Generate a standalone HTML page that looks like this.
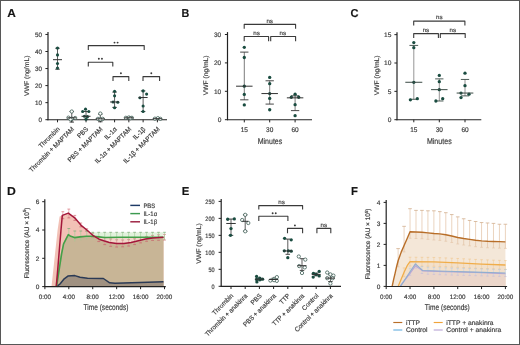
<!DOCTYPE html><html><head><meta charset="utf-8"><style>html,body{margin:0;padding:0;background:#fff;overflow:hidden;}svg{display:block;will-change:transform;}</style></head><body>
<svg width="520" height="345" viewBox="0 0 520 345" font-family='"Liberation Sans", sans-serif'>
<style>text{stroke:#404040;stroke-width:0.18px;text-rendering:geometricPrecision;}</style>
<rect x="0" y="0" width="520" height="345" fill="#fff"/>
<text x="7.2" y="17.2" font-size="11.5" text-anchor="start" fill="#111" font-weight="bold" textLength="8.6" lengthAdjust="spacingAndGlyphs">A</text>
<line x1="48.00" y1="120.20" x2="48.00" y2="32.05" stroke="#222" stroke-width="1.2"/>
<line x1="45.40" y1="119.70" x2="48.00" y2="119.70" stroke="#222" stroke-width="1"/>
<text x="42.1" y="121.9" font-size="6.3" text-anchor="end" fill="#3b3b3b">0</text>
<line x1="45.40" y1="102.65" x2="48.00" y2="102.65" stroke="#222" stroke-width="1"/>
<text x="42.1" y="104.85000000000001" font-size="6.3" text-anchor="end" fill="#3b3b3b">10</text>
<line x1="45.40" y1="85.60" x2="48.00" y2="85.60" stroke="#222" stroke-width="1"/>
<text x="42.1" y="87.8" font-size="6.3" text-anchor="end" fill="#3b3b3b">20</text>
<line x1="45.40" y1="68.55" x2="48.00" y2="68.55" stroke="#222" stroke-width="1"/>
<text x="42.1" y="70.75" font-size="6.3" text-anchor="end" fill="#3b3b3b">30</text>
<line x1="45.40" y1="51.50" x2="48.00" y2="51.50" stroke="#222" stroke-width="1"/>
<text x="42.1" y="53.7" font-size="6.3" text-anchor="end" fill="#3b3b3b">40</text>
<line x1="45.40" y1="34.45" x2="48.00" y2="34.45" stroke="#222" stroke-width="1"/>
<text x="42.1" y="36.650000000000006" font-size="6.3" text-anchor="end" fill="#3b3b3b">50</text>
<line x1="47.50" y1="119.70" x2="167.00" y2="119.70" stroke="#222" stroke-width="1.1"/>
<line x1="57.50" y1="119.70" x2="57.50" y2="122.30" stroke="#222" stroke-width="1"/>
<line x1="71.77" y1="119.70" x2="71.77" y2="122.30" stroke="#222" stroke-width="1"/>
<line x1="86.04" y1="119.70" x2="86.04" y2="122.30" stroke="#222" stroke-width="1"/>
<line x1="100.31" y1="119.70" x2="100.31" y2="122.30" stroke="#222" stroke-width="1"/>
<line x1="114.58" y1="119.70" x2="114.58" y2="122.30" stroke="#222" stroke-width="1"/>
<line x1="128.85" y1="119.70" x2="128.85" y2="122.30" stroke="#222" stroke-width="1"/>
<line x1="143.12" y1="119.70" x2="143.12" y2="122.30" stroke="#222" stroke-width="1"/>
<line x1="157.39" y1="119.70" x2="157.39" y2="122.30" stroke="#222" stroke-width="1"/>
<text x="29.5" y="75.8" font-size="6.6" text-anchor="middle" fill="#3b3b3b" transform="rotate(-90 29.5 75.8)" textLength="40.5" lengthAdjust="spacingAndGlyphs">VWF (ng/mL)</text>
<text x="60.3" y="129.6" font-size="6.6" text-anchor="end" fill="#3b3b3b" transform="rotate(-45 60.3 129.6)" textLength="26.76" lengthAdjust="spacingAndGlyphs">Thrombin</text>
<text x="74.57" y="129.6" font-size="6.6" text-anchor="end" fill="#3b3b3b" transform="rotate(-45 74.57 129.6)" textLength="60.62" lengthAdjust="spacingAndGlyphs">Thrombin + MAPTAM</text>
<text x="88.83999999999999" y="129.6" font-size="6.6" text-anchor="end" fill="#3b3b3b" transform="rotate(-45 88.83999999999999 129.6)" textLength="12.68" lengthAdjust="spacingAndGlyphs">PBS</text>
<text x="103.11" y="129.6" font-size="6.6" text-anchor="end" fill="#3b3b3b" transform="rotate(-45 103.11 129.6)" textLength="46.53" lengthAdjust="spacingAndGlyphs">PBS + MAPTAM</text>
<text x="117.38" y="129.6" font-size="6.6" text-anchor="end" fill="#3b3b3b" transform="rotate(-45 117.38 129.6)" textLength="14.58" lengthAdjust="spacingAndGlyphs">IL-1α</text>
<text x="131.65" y="129.6" font-size="6.6" text-anchor="end" fill="#3b3b3b" transform="rotate(-45 131.65 129.6)" textLength="48.44" lengthAdjust="spacingAndGlyphs">IL-1α + MAPTAM</text>
<text x="145.92000000000002" y="129.6" font-size="6.6" text-anchor="end" fill="#3b3b3b" transform="rotate(-45 145.92000000000002 129.6)" textLength="14.56" lengthAdjust="spacingAndGlyphs">IL-1β</text>
<text x="160.19" y="129.6" font-size="6.6" text-anchor="end" fill="#3b3b3b" transform="rotate(-45 160.19 129.6)" textLength="48.42" lengthAdjust="spacingAndGlyphs">IL-1β + MAPTAM</text>
<line x1="57.50" y1="48.26" x2="57.50" y2="69.23" stroke="#333" stroke-width="0.8"/>
<line x1="55.25" y1="48.26" x2="59.75" y2="48.26" stroke="#333" stroke-width="0.9"/>
<line x1="55.25" y1="69.23" x2="59.75" y2="69.23" stroke="#333" stroke-width="0.9"/>
<circle cx="57.50" cy="48.09" r="1.55" fill="#1a4c40" stroke="none" stroke-width="0.6"/>
<circle cx="57.50" cy="54.91" r="1.55" fill="#1a4c40" stroke="none" stroke-width="0.6"/>
<circle cx="57.50" cy="63.44" r="1.55" fill="#1a4c40" stroke="none" stroke-width="0.6"/>
<circle cx="57.50" cy="68.04" r="1.55" fill="#1a4c40" stroke="none" stroke-width="0.6"/>
<line x1="53.00" y1="59.68" x2="62.00" y2="59.68" stroke="#333" stroke-width="1.0"/>
<line x1="71.77" y1="111.52" x2="71.77" y2="122.09" stroke="#333" stroke-width="0.8"/>
<line x1="69.52" y1="111.52" x2="74.02" y2="111.52" stroke="#333" stroke-width="0.9"/>
<line x1="69.52" y1="122.09" x2="74.02" y2="122.09" stroke="#333" stroke-width="0.9"/>
<circle cx="71.77" cy="111.52" r="1.65" fill="white" stroke="#274a40" stroke-width="0.7"/>
<circle cx="68.47" cy="117.65" r="1.65" fill="white" stroke="#274a40" stroke-width="0.7"/>
<circle cx="75.17" cy="118.00" r="1.65" fill="white" stroke="#274a40" stroke-width="0.7"/>
<circle cx="71.77" cy="118.68" r="1.65" fill="white" stroke="#274a40" stroke-width="0.7"/>
<circle cx="70.57" cy="119.36" r="1.65" fill="white" stroke="#274a40" stroke-width="0.7"/>
<line x1="67.37" y1="117.82" x2="76.17" y2="117.82" stroke="#333" stroke-width="1.0"/>
<line x1="86.04" y1="111.52" x2="86.04" y2="119.19" stroke="#333" stroke-width="0.8"/>
<line x1="83.79" y1="111.52" x2="88.29" y2="111.52" stroke="#333" stroke-width="0.9"/>
<line x1="83.79" y1="119.19" x2="88.29" y2="119.19" stroke="#333" stroke-width="0.9"/>
<circle cx="85.54" cy="109.13" r="1.55" fill="#1a4c40" stroke="none" stroke-width="0.6"/>
<circle cx="82.64" cy="111.52" r="1.55" fill="#1a4c40" stroke="none" stroke-width="0.6"/>
<circle cx="88.84" cy="111.52" r="1.55" fill="#1a4c40" stroke="none" stroke-width="0.6"/>
<circle cx="84.44" cy="116.29" r="1.55" fill="#1a4c40" stroke="none" stroke-width="0.6"/>
<circle cx="87.44" cy="116.63" r="1.55" fill="#1a4c40" stroke="none" stroke-width="0.6"/>
<circle cx="86.04" cy="119.19" r="1.55" fill="#1a4c40" stroke="none" stroke-width="0.6"/>
<line x1="81.54" y1="116.29" x2="90.54" y2="116.29" stroke="#333" stroke-width="1.0"/>
<line x1="100.31" y1="114.07" x2="100.31" y2="121.75" stroke="#333" stroke-width="0.8"/>
<line x1="98.06" y1="114.07" x2="102.56" y2="114.07" stroke="#333" stroke-width="0.9"/>
<line x1="98.06" y1="121.75" x2="102.56" y2="121.75" stroke="#333" stroke-width="0.9"/>
<circle cx="100.31" cy="113.56" r="1.65" fill="white" stroke="#274a40" stroke-width="0.7"/>
<circle cx="97.91" cy="118.85" r="1.65" fill="white" stroke="#274a40" stroke-width="0.7"/>
<circle cx="102.71" cy="118.85" r="1.65" fill="white" stroke="#274a40" stroke-width="0.7"/>
<circle cx="100.31" cy="119.36" r="1.65" fill="white" stroke="#274a40" stroke-width="0.7"/>
<line x1="95.81" y1="118.85" x2="104.81" y2="118.85" stroke="#333" stroke-width="1.0"/>
<line x1="114.58" y1="92.08" x2="114.58" y2="107.42" stroke="#333" stroke-width="0.8"/>
<line x1="112.33" y1="92.08" x2="116.83" y2="92.08" stroke="#333" stroke-width="0.9"/>
<line x1="112.33" y1="107.42" x2="116.83" y2="107.42" stroke="#333" stroke-width="0.9"/>
<circle cx="114.58" cy="91.23" r="1.55" fill="#1a4c40" stroke="none" stroke-width="0.6"/>
<circle cx="114.58" cy="95.83" r="1.55" fill="#1a4c40" stroke="none" stroke-width="0.6"/>
<circle cx="113.08" cy="101.97" r="1.55" fill="#1a4c40" stroke="none" stroke-width="0.6"/>
<circle cx="117.78" cy="102.31" r="1.55" fill="#1a4c40" stroke="none" stroke-width="0.6"/>
<circle cx="114.58" cy="107.77" r="1.55" fill="#1a4c40" stroke="none" stroke-width="0.6"/>
<line x1="110.08" y1="101.97" x2="119.08" y2="101.97" stroke="#333" stroke-width="1.0"/>
<line x1="128.85" y1="117.31" x2="128.85" y2="118.34" stroke="#333" stroke-width="0.8"/>
<line x1="126.60" y1="117.31" x2="131.10" y2="117.31" stroke="#333" stroke-width="0.9"/>
<line x1="126.60" y1="118.34" x2="131.10" y2="118.34" stroke="#333" stroke-width="0.9"/>
<circle cx="125.85" cy="117.82" r="1.65" fill="white" stroke="#274a40" stroke-width="0.7"/>
<circle cx="128.85" cy="117.48" r="1.65" fill="white" stroke="#274a40" stroke-width="0.7"/>
<circle cx="131.85" cy="117.82" r="1.65" fill="white" stroke="#274a40" stroke-width="0.7"/>
<circle cx="130.35" cy="118.17" r="1.65" fill="white" stroke="#274a40" stroke-width="0.7"/>
<line x1="124.35" y1="117.82" x2="133.35" y2="117.82" stroke="#333" stroke-width="1.0"/>
<line x1="143.12" y1="90.89" x2="143.12" y2="111.52" stroke="#333" stroke-width="0.8"/>
<line x1="140.87" y1="90.89" x2="145.37" y2="90.89" stroke="#333" stroke-width="0.9"/>
<line x1="140.87" y1="111.52" x2="145.37" y2="111.52" stroke="#333" stroke-width="0.9"/>
<circle cx="143.12" cy="90.89" r="1.55" fill="#1a4c40" stroke="none" stroke-width="0.6"/>
<circle cx="146.62" cy="94.12" r="1.55" fill="#1a4c40" stroke="none" stroke-width="0.6"/>
<circle cx="139.92" cy="97.71" r="1.55" fill="#1a4c40" stroke="none" stroke-width="0.6"/>
<circle cx="143.12" cy="106.06" r="1.55" fill="#1a4c40" stroke="none" stroke-width="0.6"/>
<circle cx="143.12" cy="111.52" r="1.55" fill="#1a4c40" stroke="none" stroke-width="0.6"/>
<line x1="138.62" y1="97.53" x2="147.62" y2="97.53" stroke="#333" stroke-width="1.0"/>
<line x1="157.39" y1="118.17" x2="157.39" y2="119.02" stroke="#333" stroke-width="0.8"/>
<line x1="155.14" y1="118.17" x2="159.64" y2="118.17" stroke="#333" stroke-width="0.9"/>
<line x1="155.14" y1="119.02" x2="159.64" y2="119.02" stroke="#333" stroke-width="0.9"/>
<circle cx="154.89" cy="118.68" r="1.65" fill="white" stroke="#274a40" stroke-width="0.7"/>
<circle cx="157.89" cy="118.17" r="1.65" fill="white" stroke="#274a40" stroke-width="0.7"/>
<circle cx="160.39" cy="118.85" r="1.65" fill="white" stroke="#274a40" stroke-width="0.7"/>
<line x1="152.89" y1="118.68" x2="161.89" y2="118.68" stroke="#333" stroke-width="1.0"/>
<polyline points="88.30,50.00 88.30,45.60 144.20,45.60 144.20,50.00" fill="none" stroke="#3a3a3a" stroke-width="1.1" stroke-linejoin="round" stroke-linejoin="miter"/>
<circle cx="114.50" cy="42.60" r="0.95" fill="#3a3a3a" stroke="none" stroke-width="0.6"/>
<circle cx="117.60" cy="42.60" r="0.95" fill="#3a3a3a" stroke="none" stroke-width="0.6"/>
<polyline points="88.30,66.40 88.30,62.20 112.80,62.20 112.80,66.40" fill="none" stroke="#3a3a3a" stroke-width="1.1" stroke-linejoin="round" stroke-linejoin="miter"/>
<circle cx="98.85" cy="58.80" r="0.95" fill="#3a3a3a" stroke="none" stroke-width="0.6"/>
<circle cx="101.95" cy="58.80" r="0.95" fill="#3a3a3a" stroke="none" stroke-width="0.6"/>
<polyline points="113.00,81.00 113.00,76.60 128.80,76.60 128.80,81.00" fill="none" stroke="#3a3a3a" stroke-width="1.1" stroke-linejoin="round" stroke-linejoin="miter"/>
<circle cx="120.90" cy="73.20" r="0.95" fill="#3a3a3a" stroke="none" stroke-width="0.6"/>
<polyline points="143.00,81.00 143.00,76.60 159.60,76.60 159.60,81.00" fill="none" stroke="#3a3a3a" stroke-width="1.1" stroke-linejoin="round" stroke-linejoin="miter"/>
<circle cx="151.30" cy="73.20" r="0.95" fill="#3a3a3a" stroke="none" stroke-width="0.6"/>
<text x="181.4" y="17.1" font-size="11.5" text-anchor="start" fill="#111" font-weight="bold" textLength="7.8" lengthAdjust="spacingAndGlyphs">B</text>
<line x1="227.50" y1="120.20" x2="227.50" y2="32.10" stroke="#222" stroke-width="1.2"/>
<line x1="224.90" y1="119.70" x2="227.50" y2="119.70" stroke="#222" stroke-width="1"/>
<text x="221.3" y="121.9" font-size="6.6" text-anchor="end" fill="#3b3b3b">0</text>
<line x1="224.90" y1="91.30" x2="227.50" y2="91.30" stroke="#222" stroke-width="1"/>
<text x="221.3" y="93.50000000000001" font-size="6.6" text-anchor="end" fill="#3b3b3b">10</text>
<line x1="224.90" y1="62.90" x2="227.50" y2="62.90" stroke="#222" stroke-width="1"/>
<text x="221.3" y="65.10000000000001" font-size="6.6" text-anchor="end" fill="#3b3b3b">20</text>
<line x1="224.90" y1="34.50" x2="227.50" y2="34.50" stroke="#222" stroke-width="1"/>
<text x="221.3" y="36.70000000000002" font-size="6.6" text-anchor="end" fill="#3b3b3b">30</text>
<line x1="227.00" y1="119.80" x2="312.00" y2="119.80" stroke="#222" stroke-width="1.1"/>
<line x1="244.30" y1="119.80" x2="244.30" y2="122.40" stroke="#222" stroke-width="1"/>
<line x1="269.70" y1="119.80" x2="269.70" y2="122.40" stroke="#222" stroke-width="1"/>
<line x1="295.10" y1="119.80" x2="295.10" y2="122.40" stroke="#222" stroke-width="1"/>
<text x="244.3" y="132.0" font-size="6.8" text-anchor="middle" fill="#3b3b3b" textLength="7.2" lengthAdjust="spacingAndGlyphs">15</text>
<text x="269.7" y="132.0" font-size="6.8" text-anchor="middle" fill="#3b3b3b" textLength="7.2" lengthAdjust="spacingAndGlyphs">30</text>
<text x="295.1" y="132.0" font-size="6.8" text-anchor="middle" fill="#3b3b3b" textLength="7.2" lengthAdjust="spacingAndGlyphs">60</text>
<text x="270" y="143.9" font-size="8.2" text-anchor="middle" fill="#3b3b3b" textLength="24.6" lengthAdjust="spacingAndGlyphs">Minutes</text>
<text x="207.7" y="75.3" font-size="6.6" text-anchor="middle" fill="#3b3b3b" transform="rotate(-90 207.7 75.3)" textLength="39.8" lengthAdjust="spacingAndGlyphs">VWF (ng/mL)</text>
<line x1="244.30" y1="52.11" x2="244.30" y2="99.82" stroke="#5a5a5a" stroke-width="0.8"/>
<line x1="240.15" y1="52.11" x2="248.45" y2="52.11" stroke="#333" stroke-width="0.9"/>
<line x1="240.15" y1="99.82" x2="248.45" y2="99.82" stroke="#333" stroke-width="0.9"/>
<circle cx="244.30" cy="47.28" r="1.65" fill="#1a4c40" stroke="none" stroke-width="0.6"/>
<circle cx="244.30" cy="57.50" r="1.65" fill="#1a4c40" stroke="none" stroke-width="0.6"/>
<circle cx="244.30" cy="86.19" r="1.65" fill="#1a4c40" stroke="none" stroke-width="0.6"/>
<circle cx="244.30" cy="94.42" r="1.65" fill="#1a4c40" stroke="none" stroke-width="0.6"/>
<circle cx="244.30" cy="104.93" r="1.65" fill="#1a4c40" stroke="none" stroke-width="0.6"/>
<line x1="236.05" y1="86.19" x2="252.55" y2="86.19" stroke="#333" stroke-width="1.0"/>
<line x1="269.70" y1="80.79" x2="269.70" y2="104.08" stroke="#5a5a5a" stroke-width="0.8"/>
<line x1="265.55" y1="80.79" x2="273.85" y2="80.79" stroke="#333" stroke-width="0.9"/>
<line x1="265.55" y1="104.08" x2="273.85" y2="104.08" stroke="#333" stroke-width="0.9"/>
<circle cx="269.70" cy="77.38" r="1.65" fill="#1a4c40" stroke="none" stroke-width="0.6"/>
<circle cx="269.70" cy="83.63" r="1.65" fill="#1a4c40" stroke="none" stroke-width="0.6"/>
<circle cx="269.70" cy="93.57" r="1.65" fill="#1a4c40" stroke="none" stroke-width="0.6"/>
<circle cx="269.70" cy="98.40" r="1.65" fill="#1a4c40" stroke="none" stroke-width="0.6"/>
<circle cx="269.70" cy="109.76" r="1.65" fill="#1a4c40" stroke="none" stroke-width="0.6"/>
<line x1="261.45" y1="93.57" x2="277.95" y2="93.57" stroke="#333" stroke-width="1.0"/>
<line x1="295.10" y1="95.84" x2="295.10" y2="110.61" stroke="#5a5a5a" stroke-width="0.8"/>
<line x1="290.95" y1="95.84" x2="299.25" y2="95.84" stroke="#333" stroke-width="0.9"/>
<line x1="290.95" y1="110.61" x2="299.25" y2="110.61" stroke="#333" stroke-width="0.9"/>
<circle cx="295.10" cy="94.14" r="1.65" fill="#1a4c40" stroke="none" stroke-width="0.6"/>
<circle cx="291.30" cy="97.26" r="1.65" fill="#1a4c40" stroke="none" stroke-width="0.6"/>
<circle cx="298.70" cy="97.26" r="1.65" fill="#1a4c40" stroke="none" stroke-width="0.6"/>
<circle cx="295.10" cy="104.65" r="1.65" fill="#1a4c40" stroke="none" stroke-width="0.6"/>
<circle cx="295.10" cy="115.72" r="1.65" fill="#1a4c40" stroke="none" stroke-width="0.6"/>
<line x1="286.85" y1="97.83" x2="303.35" y2="97.83" stroke="#333" stroke-width="1.0"/>
<polyline points="244.20,28.70 244.20,24.40 295.60,24.40 295.60,28.70" fill="none" stroke="#3a3a3a" stroke-width="1.1" stroke-linejoin="round" stroke-linejoin="miter"/>
<text x="269.7" y="22.5" font-size="6.0" text-anchor="middle" fill="#3b3b3b" textLength="6.5" lengthAdjust="spacingAndGlyphs">ns</text>
<polyline points="244.20,41.20 244.20,36.50 268.60,36.50 268.60,41.20" fill="none" stroke="#3a3a3a" stroke-width="1.1" stroke-linejoin="round" stroke-linejoin="miter"/>
<text x="256.5" y="35.0" font-size="6.0" text-anchor="middle" fill="#3b3b3b" textLength="6.5" lengthAdjust="spacingAndGlyphs">ns</text>
<polyline points="270.70,41.20 270.70,36.50 295.60,36.50 295.60,41.20" fill="none" stroke="#3a3a3a" stroke-width="1.1" stroke-linejoin="round" stroke-linejoin="miter"/>
<text x="282.8" y="35.0" font-size="6.0" text-anchor="middle" fill="#3b3b3b" textLength="6.5" lengthAdjust="spacingAndGlyphs">ns</text>
<text x="350.4" y="17.1" font-size="11.5" text-anchor="start" fill="#111" font-weight="bold" textLength="8.0" lengthAdjust="spacingAndGlyphs">C</text>
<line x1="397.00" y1="120.20" x2="397.00" y2="32.25" stroke="#222" stroke-width="1.2"/>
<line x1="394.40" y1="119.70" x2="397.00" y2="119.70" stroke="#222" stroke-width="1"/>
<text x="391.4" y="121.9" font-size="6.6" text-anchor="end" fill="#3b3b3b">0</text>
<line x1="394.40" y1="91.35" x2="397.00" y2="91.35" stroke="#222" stroke-width="1"/>
<text x="391.4" y="93.55" font-size="6.6" text-anchor="end" fill="#3b3b3b">5</text>
<line x1="394.40" y1="63.00" x2="397.00" y2="63.00" stroke="#222" stroke-width="1"/>
<text x="391.4" y="65.2" font-size="6.6" text-anchor="end" fill="#3b3b3b">10</text>
<line x1="394.40" y1="34.65" x2="397.00" y2="34.65" stroke="#222" stroke-width="1"/>
<text x="391.4" y="36.85000000000001" font-size="6.6" text-anchor="end" fill="#3b3b3b">15</text>
<line x1="396.50" y1="119.70" x2="481.30" y2="119.70" stroke="#222" stroke-width="1.1"/>
<line x1="413.80" y1="119.70" x2="413.80" y2="122.30" stroke="#222" stroke-width="1"/>
<line x1="439.30" y1="119.70" x2="439.30" y2="122.30" stroke="#222" stroke-width="1"/>
<line x1="465.00" y1="119.70" x2="465.00" y2="122.30" stroke="#222" stroke-width="1"/>
<text x="413.8" y="132.0" font-size="6.8" text-anchor="middle" fill="#3b3b3b" textLength="7.2" lengthAdjust="spacingAndGlyphs">15</text>
<text x="439.3" y="132.0" font-size="6.8" text-anchor="middle" fill="#3b3b3b" textLength="7.2" lengthAdjust="spacingAndGlyphs">30</text>
<text x="465.0" y="132.0" font-size="6.8" text-anchor="middle" fill="#3b3b3b" textLength="7.2" lengthAdjust="spacingAndGlyphs">60</text>
<text x="439.3" y="144.1" font-size="8.2" text-anchor="middle" fill="#3b3b3b" textLength="24.8" lengthAdjust="spacingAndGlyphs">Minutes</text>
<text x="378.6" y="75.3" font-size="6.6" text-anchor="middle" fill="#3b3b3b" transform="rotate(-90 378.6 75.3)" textLength="39.8" lengthAdjust="spacingAndGlyphs">VWF (ng/mL)</text>
<line x1="413.80" y1="45.42" x2="413.80" y2="99.29" stroke="#7a7a7a" stroke-width="0.8"/>
<line x1="409.45" y1="45.42" x2="418.15" y2="45.42" stroke="#3a4a44" stroke-width="0.9"/>
<line x1="409.45" y1="99.29" x2="418.15" y2="99.29" stroke="#3a4a44" stroke-width="0.9"/>
<circle cx="413.80" cy="42.59" r="1.65" fill="#1a4c40" stroke="none" stroke-width="0.6"/>
<circle cx="413.80" cy="47.69" r="1.65" fill="#1a4c40" stroke="none" stroke-width="0.6"/>
<circle cx="413.80" cy="82.28" r="1.65" fill="#1a4c40" stroke="none" stroke-width="0.6"/>
<circle cx="410.40" cy="99.86" r="1.65" fill="#1a4c40" stroke="none" stroke-width="0.6"/>
<circle cx="417.30" cy="98.72" r="1.65" fill="#1a4c40" stroke="none" stroke-width="0.6"/>
<line x1="405.30" y1="82.28" x2="422.30" y2="82.28" stroke="#3a4a44" stroke-width="1.0"/>
<line x1="439.30" y1="78.88" x2="439.30" y2="100.99" stroke="#7a7a7a" stroke-width="0.8"/>
<line x1="435.15" y1="78.88" x2="443.45" y2="78.88" stroke="#3a4a44" stroke-width="0.9"/>
<line x1="435.15" y1="100.99" x2="443.45" y2="100.99" stroke="#3a4a44" stroke-width="0.9"/>
<circle cx="439.30" cy="75.47" r="1.65" fill="#1a4c40" stroke="none" stroke-width="0.6"/>
<circle cx="439.30" cy="81.71" r="1.65" fill="#1a4c40" stroke="none" stroke-width="0.6"/>
<circle cx="439.30" cy="89.65" r="1.65" fill="#1a4c40" stroke="none" stroke-width="0.6"/>
<circle cx="442.70" cy="98.72" r="1.65" fill="#1a4c40" stroke="none" stroke-width="0.6"/>
<circle cx="435.90" cy="100.99" r="1.65" fill="#1a4c40" stroke="none" stroke-width="0.6"/>
<line x1="431.05" y1="89.65" x2="447.55" y2="89.65" stroke="#3a4a44" stroke-width="1.0"/>
<line x1="465.00" y1="79.44" x2="465.00" y2="95.89" stroke="#7a7a7a" stroke-width="0.8"/>
<line x1="460.85" y1="79.44" x2="469.15" y2="79.44" stroke="#3a4a44" stroke-width="0.9"/>
<line x1="460.85" y1="95.89" x2="469.15" y2="95.89" stroke="#3a4a44" stroke-width="0.9"/>
<circle cx="465.00" cy="73.21" r="1.65" fill="#1a4c40" stroke="none" stroke-width="0.6"/>
<circle cx="465.00" cy="85.68" r="1.65" fill="#1a4c40" stroke="none" stroke-width="0.6"/>
<circle cx="461.00" cy="93.05" r="1.65" fill="#1a4c40" stroke="none" stroke-width="0.6"/>
<circle cx="469.00" cy="94.19" r="1.65" fill="#1a4c40" stroke="none" stroke-width="0.6"/>
<circle cx="461.00" cy="97.59" r="1.65" fill="#1a4c40" stroke="none" stroke-width="0.6"/>
<line x1="456.65" y1="93.05" x2="473.35" y2="93.05" stroke="#3a4a44" stroke-width="1.0"/>
<polyline points="413.70,25.50 413.70,21.10 464.90,21.10 464.90,25.50" fill="none" stroke="#3a3a3a" stroke-width="1.1" stroke-linejoin="round" stroke-linejoin="miter"/>
<text x="439.3" y="19.0" font-size="6.0" text-anchor="middle" fill="#3b3b3b" textLength="6.5" lengthAdjust="spacingAndGlyphs">ns</text>
<polyline points="413.70,38.10 413.70,33.60 438.40,33.60 438.40,38.10" fill="none" stroke="#3a3a3a" stroke-width="1.1" stroke-linejoin="round" stroke-linejoin="miter"/>
<text x="425.9" y="32.0" font-size="6.0" text-anchor="middle" fill="#3b3b3b" textLength="6.5" lengthAdjust="spacingAndGlyphs">ns</text>
<polyline points="440.30,38.10 440.30,33.60 465.20,33.60 465.20,38.10" fill="none" stroke="#3a3a3a" stroke-width="1.1" stroke-linejoin="round" stroke-linejoin="miter"/>
<text x="452.8" y="32.0" font-size="6.0" text-anchor="middle" fill="#3b3b3b" textLength="6.5" lengthAdjust="spacingAndGlyphs">ns</text>
<text x="7.0" y="195.2" font-size="11.5" text-anchor="start" fill="#111" font-weight="bold" textLength="8.8" lengthAdjust="spacingAndGlyphs">D</text>
<polygon points="51.50,286.60 57.60,230.00 59.60,216.50 62.30,215.40 68.30,213.10 74.70,217.80 81.10,225.30 86.90,230.00 93.30,235.70 99.10,239.20 103.70,240.80 109.40,242.50 116.60,243.40 123.90,243.40 131.10,242.50 138.30,240.80 145.50,239.00 152.70,237.90 163.50,237.20 163.50,286.60" fill="#f2c1b6" stroke="none"/>
<polygon points="92.00,232.30 163.50,232.30 163.50,237.20 92.00,237.20" fill="#e2f1dc" stroke="none"/>
<polygon points="95.00,236.50 95.50,236.55 96.00,236.61 96.50,236.67 97.00,236.73 97.50,236.78 98.00,236.84 98.50,236.90 99.00,236.95 99.50,236.99 100.00,237.04 100.50,237.09 101.00,237.13 101.50,237.18 102.00,237.23 102.50,237.28 103.00,237.32 103.50,237.37 104.00,237.42 104.50,237.46 105.00,237.50 105.50,237.49 106.00,237.49 106.50,237.48 107.00,237.47 107.50,237.47 108.00,237.46 108.50,237.45 109.00,237.45 109.50,237.44 110.00,237.43 110.50,237.43 111.00,237.42 111.50,237.41 112.00,237.41 112.50,237.40 113.00,237.39 113.50,237.39 114.00,237.38 114.50,237.37 115.00,237.37 115.50,237.36 116.00,237.35 116.50,237.35 117.00,237.34 117.50,237.33 118.00,237.33 118.50,237.32 119.00,237.31 119.50,237.31 120.00,237.30 120.50,237.30 121.00,237.30 121.50,237.29 122.00,237.29 122.50,237.29 123.00,237.28 123.50,237.28 124.00,237.28 124.50,237.28 125.00,237.28 125.50,237.27 126.00,237.27 126.50,237.27 127.00,237.27 127.50,237.26 128.00,237.26 128.50,237.26 129.00,237.25 129.50,237.25 130.00,237.25 130.50,237.25 131.00,237.25 131.50,237.24 132.00,237.24 132.50,237.24 133.00,237.23 133.50,237.23 134.00,237.23 134.50,237.23 135.00,237.22 135.50,237.22 136.00,237.22 136.50,237.22 137.00,237.22 137.50,237.21 138.00,237.21 138.50,237.21 139.00,237.20 139.50,237.20 140.00,237.20 140.50,237.20 141.00,237.20 141.50,237.20 142.00,237.20 142.50,237.20 143.00,237.20 143.50,237.20 144.00,237.20 144.50,237.20 145.00,237.20 145.50,237.20 146.00,237.20 146.50,237.20 147.00,237.20 147.50,237.20 148.00,237.20 148.50,237.20 149.00,237.20 149.50,237.20 150.00,237.20 150.50,237.20 151.00,237.20 151.50,237.20 152.00,237.20 152.50,237.20 153.00,237.20 153.50,237.20 154.00,237.20 154.50,237.20 155.00,237.20 155.50,237.20 156.00,237.20 156.50,237.20 157.00,237.20 157.50,237.20 158.00,237.20 158.50,237.20 159.00,237.20 159.50,237.20 160.00,237.20 160.50,237.20 161.00,237.20 161.50,237.20 162.00,237.20 162.50,237.20 163.00,237.20 163.50,237.20 163.50,237.20 163.00,237.23 162.50,237.26 162.00,237.30 161.50,237.33 161.00,237.36 160.50,237.39 160.00,237.43 159.50,237.46 159.00,237.49 158.50,237.52 158.00,237.56 157.50,237.59 157.00,237.62 156.50,237.65 156.00,237.69 155.50,237.72 155.00,237.75 154.50,237.78 154.00,237.82 153.50,237.85 153.00,237.88 152.50,237.93 152.00,238.01 151.50,238.08 151.00,238.16 150.50,238.24 150.00,238.31 149.50,238.39 149.00,238.47 148.50,238.54 148.00,238.62 147.50,238.69 147.00,238.77 146.50,238.85 146.00,238.92 145.50,239.00 145.00,239.12 144.50,239.25 144.00,239.38 143.50,239.50 143.00,239.62 142.50,239.75 142.00,239.88 141.50,240.00 141.00,240.12 140.50,240.25 140.00,240.38 139.50,240.50 139.00,240.62 138.50,240.75 138.00,240.87 137.50,240.99 137.00,241.11 136.50,241.23 136.00,241.34 135.50,241.46 135.00,241.58 134.50,241.70 134.00,241.82 133.50,241.93 133.00,242.05 132.50,242.17 132.00,242.29 131.50,242.41 131.00,242.51 130.50,242.57 130.00,242.64 129.50,242.70 129.00,242.76 128.50,242.82 128.00,242.89 127.50,242.95 127.00,243.01 126.50,243.08 126.00,243.14 125.50,243.20 125.00,243.26 124.50,243.33 124.00,243.39 123.50,243.40 123.00,243.40 122.50,243.40 122.00,243.40 121.50,243.40 121.00,243.40 120.50,243.40 120.00,243.40 119.50,243.40 119.00,243.40 118.50,243.40 118.00,243.40 117.50,243.40 117.00,243.40 116.50,243.39 116.00,243.33 115.50,243.26 115.00,243.20 114.50,243.14 114.00,243.08 113.50,243.01 113.00,242.95 112.50,242.89 112.00,242.82 111.50,242.76 111.00,242.70 110.50,242.64 110.00,242.57 109.50,242.51 109.00,242.38 108.50,242.23 108.00,242.08 107.50,241.93 107.00,241.78 106.50,241.64 106.00,241.49 105.50,241.34 105.00,241.19 104.50,241.04 104.00,240.89 103.50,240.73 103.00,240.56 102.50,240.38 102.00,240.21 101.50,240.03 101.00,239.86 100.50,239.69 100.00,239.51 99.50,239.34 99.00,239.14 98.50,238.84 98.00,238.54 97.50,238.23 97.00,237.93 96.50,237.63 96.00,237.33 95.50,237.03 95.00,236.73" fill="#f1d6c9" stroke="none"/>
<polygon points="55.00,286.60 58.50,265.00 60.80,253.30 62.80,243.90 66.50,236.50 68.50,234.74 69.00,235.08 69.50,235.42 70.00,235.76 70.50,236.10 71.00,236.37 71.50,236.55 72.00,236.72 72.50,236.90 73.00,237.07 73.50,237.25 74.00,237.42 74.50,237.60 75.00,237.54 75.50,237.47 76.00,237.41 76.50,237.35 77.00,237.28 77.50,237.22 78.00,237.15 78.50,237.09 79.00,237.03 79.50,236.96 80.00,236.90 80.50,236.85 81.00,236.80 81.50,236.76 82.00,236.71 82.50,236.66 83.00,236.61 83.50,236.57 84.00,236.52 84.50,236.47 85.00,236.42 85.50,236.38 86.00,236.33 86.50,236.30 87.00,236.30 87.50,236.30 88.00,236.30 88.50,236.30 89.00,236.30 89.50,236.30 90.00,236.30 90.50,236.30 91.00,236.30 91.50,236.30 92.00,236.30 92.50,236.30 93.00,236.30 93.50,236.32 94.00,236.38 94.50,236.44 95.00,236.73 95.50,237.03 96.00,237.33 96.50,237.63 97.00,237.93 97.50,238.23 98.00,238.54 98.50,238.84 99.00,239.14 99.50,239.34 100.00,239.51 100.50,239.69 101.00,239.86 101.50,240.03 102.00,240.21 102.50,240.38 103.00,240.56 103.50,240.73 104.00,240.89 104.50,241.04 105.00,241.19 105.50,241.34 106.00,241.49 106.50,241.64 107.00,241.78 107.50,241.93 108.00,242.08 108.50,242.23 109.00,242.38 109.50,242.51 110.00,242.57 110.50,242.64 111.00,242.70 111.50,242.76 112.00,242.82 112.50,242.89 113.00,242.95 113.50,243.01 114.00,243.08 114.50,243.14 115.00,243.20 115.50,243.26 116.00,243.33 116.50,243.39 117.00,243.40 117.50,243.40 118.00,243.40 118.50,243.40 119.00,243.40 119.50,243.40 120.00,243.40 120.50,243.40 121.00,243.40 121.50,243.40 122.00,243.40 122.50,243.40 123.00,243.40 123.50,243.40 124.00,243.39 124.50,243.33 125.00,243.26 125.50,243.20 126.00,243.14 126.50,243.08 127.00,243.01 127.50,242.95 128.00,242.89 128.50,242.82 129.00,242.76 129.50,242.70 130.00,242.64 130.50,242.57 131.00,242.51 131.50,242.41 132.00,242.29 132.50,242.17 133.00,242.05 133.50,241.93 134.00,241.82 134.50,241.70 135.00,241.58 135.50,241.46 136.00,241.34 136.50,241.23 137.00,241.11 137.50,240.99 138.00,240.87 138.50,240.75 139.00,240.62 139.50,240.50 140.00,240.38 140.50,240.25 141.00,240.12 141.50,240.00 142.00,239.88 142.50,239.75 143.00,239.62 143.50,239.50 144.00,239.38 144.50,239.25 145.00,239.12 145.50,239.00 146.00,238.92 146.50,238.85 147.00,238.77 147.50,238.69 148.00,238.62 148.50,238.54 149.00,238.47 149.50,238.39 150.00,238.31 150.50,238.24 151.00,238.16 151.50,238.08 152.00,238.01 152.50,237.93 153.00,237.88 153.50,237.85 154.00,237.82 154.50,237.78 155.00,237.75 155.50,237.72 156.00,237.69 156.50,237.65 157.00,237.62 157.50,237.59 158.00,237.56 158.50,237.52 159.00,237.49 159.50,237.46 160.00,237.43 160.50,237.39 161.00,237.36 161.50,237.33 162.00,237.30 162.50,237.26 163.00,237.23 163.50,237.20 163.50,286.60" fill="#c8b596" stroke="none"/>
<polygon points="56.60,286.60 60.00,284.00 64.20,278.80 67.90,276.10 74.80,275.60 80.10,277.20 87.50,278.20 103.40,278.50 109.70,282.80 115.00,283.20 140.00,282.50 163.50,281.80 163.50,286.60" fill="#a09181" stroke="none"/>
<line x1="62.84" y1="211.70" x2="62.84" y2="218.69" stroke="#dd8a8f" stroke-width="0.6"/>
<line x1="61.44" y1="211.70" x2="64.24" y2="211.70" stroke="#d9707a" stroke-width="0.7"/>
<line x1="61.44" y1="218.69" x2="64.24" y2="218.69" stroke="#c9606a" stroke-width="0.7"/>
<line x1="68.82" y1="209.10" x2="68.82" y2="217.86" stroke="#dd8a8f" stroke-width="0.6"/>
<line x1="67.42" y1="209.10" x2="70.22" y2="209.10" stroke="#d9707a" stroke-width="0.7"/>
<line x1="67.42" y1="217.86" x2="70.22" y2="217.86" stroke="#c9606a" stroke-width="0.7"/>
<line x1="74.80" y1="215.40" x2="74.80" y2="220.43" stroke="#dd8a8f" stroke-width="0.6"/>
<line x1="73.40" y1="215.40" x2="76.20" y2="215.40" stroke="#d9707a" stroke-width="0.7"/>
<line x1="73.40" y1="220.43" x2="76.20" y2="220.43" stroke="#c9606a" stroke-width="0.7"/>
<line x1="80.78" y1="223.00" x2="80.78" y2="226.85" stroke="#dd8a8f" stroke-width="0.6"/>
<line x1="79.38" y1="223.00" x2="82.18" y2="223.00" stroke="#d9707a" stroke-width="0.7"/>
<line x1="79.38" y1="226.85" x2="82.18" y2="226.85" stroke="#c9606a" stroke-width="0.7"/>
<line x1="86.76" y1="228.80" x2="86.76" y2="230.97" stroke="#dd8a8f" stroke-width="0.6"/>
<line x1="85.36" y1="228.80" x2="88.16" y2="228.80" stroke="#d9707a" stroke-width="0.7"/>
<line x1="85.36" y1="230.97" x2="88.16" y2="230.97" stroke="#c9606a" stroke-width="0.7"/>
<line x1="92.74" y1="233.20" x2="92.74" y2="237.20" stroke="#dd8a8f" stroke-width="0.6"/>
<line x1="91.34" y1="233.20" x2="94.14" y2="233.20" stroke="#d9707a" stroke-width="0.7"/>
<line x1="91.34" y1="237.20" x2="94.14" y2="237.20" stroke="#c9606a" stroke-width="0.7"/>
<line x1="98.72" y1="236.40" x2="98.72" y2="241.54" stroke="#dd8a8f" stroke-width="0.6"/>
<line x1="97.32" y1="236.40" x2="100.12" y2="236.40" stroke="#d9707a" stroke-width="0.7"/>
<line x1="97.32" y1="241.54" x2="100.12" y2="241.54" stroke="#c9606a" stroke-width="0.7"/>
<line x1="104.70" y1="237.60" x2="104.70" y2="244.60" stroke="#dd8a8f" stroke-width="0.6"/>
<line x1="103.30" y1="237.60" x2="106.10" y2="237.60" stroke="#d9707a" stroke-width="0.7"/>
<line x1="103.30" y1="244.60" x2="106.10" y2="244.60" stroke="#c9606a" stroke-width="0.7"/>
<line x1="110.68" y1="239.00" x2="110.68" y2="246.32" stroke="#dd8a8f" stroke-width="0.6"/>
<line x1="109.28" y1="239.00" x2="112.08" y2="239.00" stroke="#d9707a" stroke-width="0.7"/>
<line x1="109.28" y1="246.32" x2="112.08" y2="246.32" stroke="#c9606a" stroke-width="0.7"/>
<line x1="116.66" y1="239.80" x2="116.66" y2="247.00" stroke="#dd8a8f" stroke-width="0.6"/>
<line x1="115.26" y1="239.80" x2="118.06" y2="239.80" stroke="#d9707a" stroke-width="0.7"/>
<line x1="115.26" y1="247.00" x2="118.06" y2="247.00" stroke="#c9606a" stroke-width="0.7"/>
<line x1="122.64" y1="240.00" x2="122.64" y2="246.80" stroke="#dd8a8f" stroke-width="0.6"/>
<line x1="121.24" y1="240.00" x2="124.04" y2="240.00" stroke="#d9707a" stroke-width="0.7"/>
<line x1="121.24" y1="246.80" x2="124.04" y2="246.80" stroke="#c9606a" stroke-width="0.7"/>
<line x1="128.62" y1="239.60" x2="128.62" y2="246.02" stroke="#dd8a8f" stroke-width="0.6"/>
<line x1="127.22" y1="239.60" x2="130.02" y2="239.60" stroke="#d9707a" stroke-width="0.7"/>
<line x1="127.22" y1="246.02" x2="130.02" y2="246.02" stroke="#c9606a" stroke-width="0.7"/>
<line x1="134.60" y1="238.80" x2="134.60" y2="244.55" stroke="#dd8a8f" stroke-width="0.6"/>
<line x1="133.20" y1="238.80" x2="136.00" y2="238.80" stroke="#d9707a" stroke-width="0.7"/>
<line x1="133.20" y1="244.55" x2="136.00" y2="244.55" stroke="#c9606a" stroke-width="0.7"/>
<line x1="140.58" y1="237.60" x2="140.58" y2="242.86" stroke="#dd8a8f" stroke-width="0.6"/>
<line x1="139.18" y1="237.60" x2="141.98" y2="237.60" stroke="#d9707a" stroke-width="0.7"/>
<line x1="139.18" y1="242.86" x2="141.98" y2="242.86" stroke="#c9606a" stroke-width="0.7"/>
<line x1="146.56" y1="236.40" x2="146.56" y2="241.28" stroke="#dd8a8f" stroke-width="0.6"/>
<line x1="145.16" y1="236.40" x2="147.96" y2="236.40" stroke="#d9707a" stroke-width="0.7"/>
<line x1="145.16" y1="241.28" x2="147.96" y2="241.28" stroke="#c9606a" stroke-width="0.7"/>
<line x1="152.54" y1="235.40" x2="152.54" y2="240.45" stroke="#dd8a8f" stroke-width="0.6"/>
<line x1="151.14" y1="235.40" x2="153.94" y2="235.40" stroke="#d9707a" stroke-width="0.7"/>
<line x1="151.14" y1="240.45" x2="153.94" y2="240.45" stroke="#c9606a" stroke-width="0.7"/>
<line x1="158.52" y1="234.80" x2="158.52" y2="240.25" stroke="#dd8a8f" stroke-width="0.6"/>
<line x1="157.12" y1="234.80" x2="159.92" y2="234.80" stroke="#d9707a" stroke-width="0.7"/>
<line x1="157.12" y1="240.25" x2="159.92" y2="240.25" stroke="#c9606a" stroke-width="0.7"/>
<line x1="164.50" y1="234.40" x2="164.50" y2="240.00" stroke="#dd8a8f" stroke-width="0.6"/>
<line x1="163.10" y1="234.40" x2="165.90" y2="234.40" stroke="#d9707a" stroke-width="0.7"/>
<line x1="163.10" y1="240.00" x2="165.90" y2="240.00" stroke="#c9606a" stroke-width="0.7"/>
<line x1="68.82" y1="228.50" x2="68.82" y2="238.83" stroke="#9ccf94" stroke-width="0.6"/>
<line x1="67.42" y1="228.50" x2="70.22" y2="228.50" stroke="#7aa873" stroke-width="0.7"/>
<line x1="74.80" y1="231.00" x2="74.80" y2="241.50" stroke="#9ccf94" stroke-width="0.6"/>
<line x1="73.40" y1="231.00" x2="76.20" y2="231.00" stroke="#7aa873" stroke-width="0.7"/>
<line x1="80.78" y1="231.00" x2="80.78" y2="240.32" stroke="#9ccf94" stroke-width="0.6"/>
<line x1="79.38" y1="231.00" x2="82.18" y2="231.00" stroke="#7aa873" stroke-width="0.7"/>
<line x1="86.76" y1="231.00" x2="86.76" y2="239.48" stroke="#9ccf94" stroke-width="0.6"/>
<line x1="85.36" y1="231.00" x2="88.16" y2="231.00" stroke="#7aa873" stroke-width="0.7"/>
<line x1="92.74" y1="232.30" x2="92.74" y2="238.70" stroke="#9ccf94" stroke-width="0.6"/>
<line x1="91.34" y1="232.30" x2="94.14" y2="232.30" stroke="#7aa873" stroke-width="0.7"/>
<line x1="98.72" y1="232.30" x2="98.72" y2="239.69" stroke="#9ccf94" stroke-width="0.6"/>
<line x1="97.32" y1="232.30" x2="100.12" y2="232.30" stroke="#7aa873" stroke-width="0.7"/>
<line x1="104.70" y1="232.30" x2="104.70" y2="240.59" stroke="#9ccf94" stroke-width="0.6"/>
<line x1="103.30" y1="232.30" x2="106.10" y2="232.30" stroke="#7aa873" stroke-width="0.7"/>
<line x1="110.68" y1="232.30" x2="110.68" y2="240.50" stroke="#9ccf94" stroke-width="0.6"/>
<line x1="109.28" y1="232.30" x2="112.08" y2="232.30" stroke="#7aa873" stroke-width="0.7"/>
<line x1="116.66" y1="232.30" x2="116.66" y2="240.37" stroke="#9ccf94" stroke-width="0.6"/>
<line x1="115.26" y1="232.30" x2="118.06" y2="232.30" stroke="#7aa873" stroke-width="0.7"/>
<line x1="122.64" y1="232.30" x2="122.64" y2="240.28" stroke="#9ccf94" stroke-width="0.6"/>
<line x1="121.24" y1="232.30" x2="124.04" y2="232.30" stroke="#7aa873" stroke-width="0.7"/>
<line x1="128.62" y1="232.30" x2="128.62" y2="240.23" stroke="#9ccf94" stroke-width="0.6"/>
<line x1="127.22" y1="232.30" x2="130.02" y2="232.30" stroke="#7aa873" stroke-width="0.7"/>
<line x1="134.60" y1="232.30" x2="134.60" y2="240.18" stroke="#9ccf94" stroke-width="0.6"/>
<line x1="133.20" y1="232.30" x2="136.00" y2="232.30" stroke="#7aa873" stroke-width="0.7"/>
<line x1="140.58" y1="232.30" x2="140.58" y2="240.14" stroke="#9ccf94" stroke-width="0.6"/>
<line x1="139.18" y1="232.30" x2="141.98" y2="232.30" stroke="#7aa873" stroke-width="0.7"/>
<line x1="146.56" y1="232.30" x2="146.56" y2="240.14" stroke="#9ccf94" stroke-width="0.6"/>
<line x1="145.16" y1="232.30" x2="147.96" y2="232.30" stroke="#7aa873" stroke-width="0.7"/>
<line x1="152.54" y1="232.30" x2="152.54" y2="240.14" stroke="#9ccf94" stroke-width="0.6"/>
<line x1="151.14" y1="232.30" x2="153.94" y2="232.30" stroke="#7aa873" stroke-width="0.7"/>
<line x1="158.52" y1="232.30" x2="158.52" y2="240.14" stroke="#9ccf94" stroke-width="0.6"/>
<line x1="157.12" y1="232.30" x2="159.92" y2="232.30" stroke="#7aa873" stroke-width="0.7"/>
<line x1="164.50" y1="232.30" x2="164.50" y2="240.14" stroke="#9ccf94" stroke-width="0.6"/>
<line x1="163.10" y1="232.30" x2="165.90" y2="232.30" stroke="#7aa873" stroke-width="0.7"/>
<polyline points="56.60,286.60 60.00,284.00 64.20,278.80 67.90,276.10 74.80,275.60 80.10,277.20 87.50,278.20 103.40,278.50 109.70,282.80 115.00,283.20 140.00,282.50 163.50,281.80" fill="none" stroke="#2b3a55" stroke-width="1.5" stroke-linejoin="round"/>
<polyline points="56.50,286.60 61.70,253.30 63.60,243.90 68.30,234.60 70.80,236.30 74.50,237.60 80.00,236.90 86.30,236.30 93.30,236.30 98.50,236.90 104.90,237.50 120.00,237.30 140.00,237.20 163.50,237.20" fill="none" stroke="#44a048" stroke-width="1.6" stroke-linejoin="round"/>
<polyline points="56.30,286.60 61.00,230.00 62.30,215.40 68.30,213.10 74.70,217.80 81.10,225.30 86.90,230.00 93.30,235.70 99.10,239.20 103.70,240.80 109.40,242.50 116.60,243.40 123.90,243.40 131.10,242.50 138.30,240.80 145.50,239.00 152.70,237.90 163.50,237.20" fill="none" stroke="#a3173a" stroke-width="1.5" stroke-linejoin="round"/>
<line x1="44.80" y1="287.10" x2="44.80" y2="199.30" stroke="#222" stroke-width="1.2"/>
<line x1="42.20" y1="286.60" x2="44.80" y2="286.60" stroke="#222" stroke-width="1"/>
<text x="39.4" y="288.8" font-size="6.5" text-anchor="end" fill="#3b3b3b">0</text>
<line x1="42.20" y1="258.30" x2="44.80" y2="258.30" stroke="#222" stroke-width="1"/>
<text x="39.4" y="260.5" font-size="6.5" text-anchor="end" fill="#3b3b3b">2</text>
<line x1="42.20" y1="230.00" x2="44.80" y2="230.00" stroke="#222" stroke-width="1"/>
<text x="39.4" y="232.20000000000002" font-size="6.5" text-anchor="end" fill="#3b3b3b">4</text>
<line x1="42.20" y1="201.70" x2="44.80" y2="201.70" stroke="#222" stroke-width="1"/>
<text x="39.4" y="203.9" font-size="6.5" text-anchor="end" fill="#3b3b3b">6</text>
<line x1="44.30" y1="286.60" x2="165.80" y2="286.60" stroke="#222" stroke-width="1.1"/>
<line x1="44.90" y1="286.60" x2="44.90" y2="289.20" stroke="#222" stroke-width="1"/>
<line x1="68.82" y1="286.60" x2="68.82" y2="289.20" stroke="#222" stroke-width="1"/>
<line x1="92.74" y1="286.60" x2="92.74" y2="289.20" stroke="#222" stroke-width="1"/>
<line x1="116.66" y1="286.60" x2="116.66" y2="289.20" stroke="#222" stroke-width="1"/>
<line x1="140.58" y1="286.60" x2="140.58" y2="289.20" stroke="#222" stroke-width="1"/>
<line x1="164.50" y1="286.60" x2="164.50" y2="289.20" stroke="#222" stroke-width="1"/>
<text x="44.9" y="298.8" font-size="6.3" text-anchor="middle" fill="#3b3b3b">0:00</text>
<text x="68.82" y="298.8" font-size="6.3" text-anchor="middle" fill="#3b3b3b">4:00</text>
<text x="92.74000000000001" y="298.8" font-size="6.3" text-anchor="middle" fill="#3b3b3b">8:00</text>
<text x="116.66" y="298.8" font-size="6.3" text-anchor="middle" fill="#3b3b3b">12:00</text>
<text x="140.58" y="298.8" font-size="6.3" text-anchor="middle" fill="#3b3b3b">16:00</text>
<text x="164.5" y="298.8" font-size="6.3" text-anchor="middle" fill="#3b3b3b">20:00</text>
<text x="106" y="310.2" font-size="8.2" text-anchor="middle" fill="#3b3b3b" textLength="45" lengthAdjust="spacingAndGlyphs">Time (seconds)</text>
<text x="28.6" y="243" font-size="6.6" text-anchor="middle" fill="#333" transform="rotate(-90 28.6 243)" textLength="71" lengthAdjust="spacingAndGlyphs">Fluorescence (AU × 10<tspan dy="-2.2" font-size="4.4">5</tspan><tspan dy="2.2">)</tspan></text>
<line x1="130.30" y1="205.40" x2="140.00" y2="205.40" stroke="#1d3a66" stroke-width="1.45"/>
<text x="143.4" y="207.6" font-size="6.4" text-anchor="start" fill="#3b3b3b" textLength="11.91" lengthAdjust="spacingAndGlyphs">PBS</text>
<line x1="130.30" y1="213.60" x2="140.00" y2="213.60" stroke="#3c9a50" stroke-width="1.45"/>
<text x="143.4" y="215.79999999999998" font-size="6.4" text-anchor="start" fill="#3b3b3b" textLength="13.7" lengthAdjust="spacingAndGlyphs">IL-1α</text>
<line x1="130.30" y1="221.80" x2="140.00" y2="221.80" stroke="#9c1f3f" stroke-width="1.45"/>
<text x="143.4" y="224.0" font-size="6.4" text-anchor="start" fill="#3b3b3b" textLength="13.68" lengthAdjust="spacingAndGlyphs">IL-1β</text>
<text x="181.8" y="195.2" font-size="11.5" text-anchor="start" fill="#111" font-weight="bold" textLength="7.6" lengthAdjust="spacingAndGlyphs">E</text>
<line x1="221.20" y1="286.80" x2="221.20" y2="199.00" stroke="#222" stroke-width="1.2"/>
<line x1="218.60" y1="286.30" x2="221.20" y2="286.30" stroke="#222" stroke-width="1"/>
<text x="214.6" y="288.5" font-size="6.3" text-anchor="end" fill="#3b3b3b" textLength="3.08" lengthAdjust="spacingAndGlyphs">0</text>
<line x1="218.60" y1="269.32" x2="221.20" y2="269.32" stroke="#222" stroke-width="1"/>
<text x="214.6" y="271.52" font-size="6.3" text-anchor="end" fill="#3b3b3b" textLength="6.17" lengthAdjust="spacingAndGlyphs">50</text>
<line x1="218.60" y1="252.34" x2="221.20" y2="252.34" stroke="#222" stroke-width="1"/>
<text x="214.6" y="254.54" font-size="6.3" text-anchor="end" fill="#3b3b3b" textLength="9.25" lengthAdjust="spacingAndGlyphs">100</text>
<line x1="218.60" y1="235.36" x2="221.20" y2="235.36" stroke="#222" stroke-width="1"/>
<text x="214.6" y="237.56" font-size="6.3" text-anchor="end" fill="#3b3b3b" textLength="9.25" lengthAdjust="spacingAndGlyphs">150</text>
<line x1="218.60" y1="218.38" x2="221.20" y2="218.38" stroke="#222" stroke-width="1"/>
<text x="214.6" y="220.57999999999998" font-size="6.3" text-anchor="end" fill="#3b3b3b" textLength="9.25" lengthAdjust="spacingAndGlyphs">200</text>
<line x1="218.60" y1="201.40" x2="221.20" y2="201.40" stroke="#222" stroke-width="1"/>
<text x="214.6" y="203.6" font-size="6.3" text-anchor="end" fill="#3b3b3b" textLength="9.25" lengthAdjust="spacingAndGlyphs">250</text>
<line x1="220.70" y1="286.40" x2="341.00" y2="286.40" stroke="#222" stroke-width="1.1"/>
<line x1="231.00" y1="286.40" x2="231.00" y2="289.00" stroke="#222" stroke-width="1"/>
<line x1="245.20" y1="286.40" x2="245.20" y2="289.00" stroke="#222" stroke-width="1"/>
<line x1="259.40" y1="286.40" x2="259.40" y2="289.00" stroke="#222" stroke-width="1"/>
<line x1="273.60" y1="286.40" x2="273.60" y2="289.00" stroke="#222" stroke-width="1"/>
<line x1="287.80" y1="286.40" x2="287.80" y2="289.00" stroke="#222" stroke-width="1"/>
<line x1="302.00" y1="286.40" x2="302.00" y2="289.00" stroke="#222" stroke-width="1"/>
<line x1="316.20" y1="286.40" x2="316.20" y2="289.00" stroke="#222" stroke-width="1"/>
<line x1="330.40" y1="286.40" x2="330.40" y2="289.00" stroke="#222" stroke-width="1"/>
<text x="233.8" y="296.3" font-size="6.6" text-anchor="end" fill="#3b3b3b" transform="rotate(-45 233.8 296.3)" textLength="27.04" lengthAdjust="spacingAndGlyphs">Thrombin</text>
<text x="248.0" y="296.3" font-size="6.6" text-anchor="end" fill="#3b3b3b" transform="rotate(-45 248.0 296.3)" textLength="57.07" lengthAdjust="spacingAndGlyphs">Thrombin + anakinra</text>
<text x="262.2" y="296.3" font-size="6.6" text-anchor="end" fill="#3b3b3b" transform="rotate(-45 262.2 296.3)" textLength="12.81" lengthAdjust="spacingAndGlyphs">PBS</text>
<text x="276.40000000000003" y="296.3" font-size="6.6" text-anchor="end" fill="#3b3b3b" transform="rotate(-45 276.40000000000003 296.3)" textLength="43.28" lengthAdjust="spacingAndGlyphs">PBS + anakinra</text>
<text x="290.6" y="296.3" font-size="6.6" text-anchor="end" fill="#3b3b3b" transform="rotate(-45 290.6 296.3)" textLength="12.09" lengthAdjust="spacingAndGlyphs">TTP</text>
<text x="304.8" y="296.3" font-size="6.6" text-anchor="end" fill="#3b3b3b" transform="rotate(-45 304.8 296.3)" textLength="42.47" lengthAdjust="spacingAndGlyphs">TTP + anakinra</text>
<text x="319.0" y="296.3" font-size="6.6" text-anchor="end" fill="#3b3b3b" transform="rotate(-45 319.0 296.3)" textLength="20.64" lengthAdjust="spacingAndGlyphs">Control</text>
<text x="333.2" y="296.3" font-size="6.6" text-anchor="end" fill="#3b3b3b" transform="rotate(-45 333.2 296.3)" textLength="50.87" lengthAdjust="spacingAndGlyphs">Control + anakinra</text>
<text x="201.0" y="243.5" font-size="6.6" text-anchor="middle" fill="#3b3b3b" transform="rotate(-90 201.0 243.5)" textLength="40.5" lengthAdjust="spacingAndGlyphs">VWF (ng/mL)</text>
<line x1="231.00" y1="219.06" x2="231.00" y2="235.36" stroke="#333" stroke-width="0.8"/>
<line x1="228.75" y1="219.06" x2="233.25" y2="219.06" stroke="#333" stroke-width="0.9"/>
<line x1="228.75" y1="235.36" x2="233.25" y2="235.36" stroke="#333" stroke-width="0.9"/>
<circle cx="227.70" cy="219.23" r="1.65" fill="#1a4c40" stroke="none" stroke-width="0.6"/>
<circle cx="234.30" cy="218.89" r="1.65" fill="#1a4c40" stroke="none" stroke-width="0.6"/>
<circle cx="231.00" cy="228.57" r="1.65" fill="#1a4c40" stroke="none" stroke-width="0.6"/>
<circle cx="230.50" cy="235.36" r="1.65" fill="#1a4c40" stroke="none" stroke-width="0.6"/>
<line x1="226.25" y1="223.47" x2="235.75" y2="223.47" stroke="#333" stroke-width="1.0"/>
<line x1="245.20" y1="214.81" x2="245.20" y2="231.28" stroke="#333" stroke-width="0.8"/>
<line x1="242.95" y1="214.81" x2="247.45" y2="214.81" stroke="#333" stroke-width="0.9"/>
<line x1="242.95" y1="231.28" x2="247.45" y2="231.28" stroke="#333" stroke-width="0.9"/>
<circle cx="245.20" cy="214.81" r="1.65" fill="white" stroke="#274a40" stroke-width="0.7"/>
<circle cx="242.20" cy="220.01" r="1.65" fill="white" stroke="#274a40" stroke-width="0.7"/>
<circle cx="248.30" cy="223.00" r="1.65" fill="white" stroke="#274a40" stroke-width="0.7"/>
<circle cx="245.20" cy="231.28" r="1.65" fill="white" stroke="#274a40" stroke-width="0.7"/>
<line x1="242.20" y1="221.30" x2="248.20" y2="221.30" stroke="#333" stroke-width="1.0"/>
<line x1="259.40" y1="278.15" x2="259.40" y2="280.19" stroke="#333" stroke-width="0.8"/>
<line x1="257.15" y1="278.15" x2="261.65" y2="278.15" stroke="#333" stroke-width="0.9"/>
<line x1="257.15" y1="280.19" x2="261.65" y2="280.19" stroke="#333" stroke-width="0.9"/>
<circle cx="256.60" cy="276.45" r="1.65" fill="#1a4c40" stroke="none" stroke-width="0.6"/>
<circle cx="256.60" cy="279.51" r="1.65" fill="#1a4c40" stroke="none" stroke-width="0.6"/>
<circle cx="259.70" cy="278.15" r="1.65" fill="#1a4c40" stroke="none" stroke-width="0.6"/>
<circle cx="262.60" cy="279.17" r="1.65" fill="#1a4c40" stroke="none" stroke-width="0.6"/>
<circle cx="256.90" cy="281.89" r="1.65" fill="#1a4c40" stroke="none" stroke-width="0.6"/>
<circle cx="259.90" cy="279.85" r="1.65" fill="#1a4c40" stroke="none" stroke-width="0.6"/>
<line x1="254.90" y1="279.17" x2="263.90" y2="279.17" stroke="#333" stroke-width="1.0"/>
<line x1="273.60" y1="278.32" x2="273.60" y2="280.70" stroke="#333" stroke-width="0.8"/>
<line x1="271.35" y1="278.32" x2="275.85" y2="278.32" stroke="#333" stroke-width="0.9"/>
<line x1="271.35" y1="280.70" x2="275.85" y2="280.70" stroke="#333" stroke-width="0.9"/>
<circle cx="270.40" cy="280.53" r="1.65" fill="white" stroke="#274a40" stroke-width="0.7"/>
<circle cx="274.10" cy="278.83" r="1.65" fill="white" stroke="#274a40" stroke-width="0.7"/>
<circle cx="276.90" cy="277.13" r="1.65" fill="white" stroke="#274a40" stroke-width="0.7"/>
<circle cx="276.80" cy="280.87" r="1.65" fill="white" stroke="#274a40" stroke-width="0.7"/>
<circle cx="274.10" cy="280.19" r="1.65" fill="white" stroke="#274a40" stroke-width="0.7"/>
<line x1="269.10" y1="279.51" x2="278.10" y2="279.51" stroke="#333" stroke-width="1.0"/>
<line x1="287.80" y1="239.10" x2="287.80" y2="254.31" stroke="#333" stroke-width="0.8"/>
<line x1="285.55" y1="239.10" x2="290.05" y2="239.10" stroke="#333" stroke-width="0.9"/>
<line x1="285.55" y1="254.31" x2="290.05" y2="254.31" stroke="#333" stroke-width="0.9"/>
<circle cx="284.60" cy="238.35" r="1.65" fill="#1a4c40" stroke="none" stroke-width="0.6"/>
<circle cx="291.20" cy="239.84" r="1.65" fill="#1a4c40" stroke="none" stroke-width="0.6"/>
<circle cx="284.30" cy="250.85" r="1.65" fill="#1a4c40" stroke="none" stroke-width="0.6"/>
<circle cx="288.40" cy="250.85" r="1.65" fill="#1a4c40" stroke="none" stroke-width="0.6"/>
<circle cx="291.20" cy="251.15" r="1.65" fill="#1a4c40" stroke="none" stroke-width="0.6"/>
<circle cx="287.80" cy="257.67" r="1.65" fill="#1a4c40" stroke="none" stroke-width="0.6"/>
<line x1="283.30" y1="250.98" x2="292.30" y2="250.98" stroke="#333" stroke-width="1.0"/>
<line x1="302.00" y1="258.69" x2="302.00" y2="270.41" stroke="#333" stroke-width="0.8"/>
<line x1="299.75" y1="258.69" x2="304.25" y2="258.69" stroke="#333" stroke-width="0.9"/>
<line x1="299.75" y1="270.41" x2="304.25" y2="270.41" stroke="#333" stroke-width="0.9"/>
<circle cx="298.80" cy="256.52" r="1.65" fill="white" stroke="#274a40" stroke-width="0.7"/>
<circle cx="305.30" cy="259.61" r="1.65" fill="white" stroke="#274a40" stroke-width="0.7"/>
<circle cx="299.20" cy="266.09" r="1.65" fill="white" stroke="#274a40" stroke-width="0.7"/>
<circle cx="304.80" cy="267.38" r="1.65" fill="white" stroke="#274a40" stroke-width="0.7"/>
<circle cx="302.00" cy="272.99" r="1.65" fill="white" stroke="#274a40" stroke-width="0.7"/>
<line x1="297.50" y1="265.69" x2="306.50" y2="265.69" stroke="#333" stroke-width="1.0"/>
<line x1="316.20" y1="273.06" x2="316.20" y2="275.77" stroke="#333" stroke-width="0.8"/>
<line x1="313.95" y1="273.06" x2="318.45" y2="273.06" stroke="#333" stroke-width="0.9"/>
<line x1="313.95" y1="275.77" x2="318.45" y2="275.77" stroke="#333" stroke-width="0.9"/>
<circle cx="313.40" cy="273.29" r="1.65" fill="#1a4c40" stroke="none" stroke-width="0.6"/>
<circle cx="319.20" cy="271.39" r="1.65" fill="#1a4c40" stroke="none" stroke-width="0.6"/>
<circle cx="316.20" cy="274.52" r="1.65" fill="#1a4c40" stroke="none" stroke-width="0.6"/>
<circle cx="313.20" cy="277.10" r="1.65" fill="#1a4c40" stroke="none" stroke-width="0.6"/>
<circle cx="319.20" cy="275.91" r="1.65" fill="#1a4c40" stroke="none" stroke-width="0.6"/>
<line x1="311.70" y1="274.41" x2="320.70" y2="274.41" stroke="#333" stroke-width="1.0"/>
<line x1="330.40" y1="274.75" x2="330.40" y2="281.55" stroke="#333" stroke-width="0.8"/>
<line x1="328.15" y1="274.75" x2="332.65" y2="274.75" stroke="#333" stroke-width="0.9"/>
<line x1="328.15" y1="281.55" x2="332.65" y2="281.55" stroke="#333" stroke-width="0.9"/>
<circle cx="327.20" cy="272.51" r="1.65" fill="white" stroke="#274a40" stroke-width="0.7"/>
<circle cx="330.40" cy="274.41" r="1.65" fill="white" stroke="#274a40" stroke-width="0.7"/>
<circle cx="333.40" cy="275.60" r="1.65" fill="white" stroke="#274a40" stroke-width="0.7"/>
<circle cx="327.20" cy="278.22" r="1.65" fill="white" stroke="#274a40" stroke-width="0.7"/>
<circle cx="332.70" cy="278.22" r="1.65" fill="white" stroke="#274a40" stroke-width="0.7"/>
<circle cx="330.40" cy="283.52" r="1.65" fill="white" stroke="#274a40" stroke-width="0.7"/>
<line x1="325.90" y1="278.15" x2="334.90" y2="278.15" stroke="#333" stroke-width="1.0"/>
<polyline points="258.80,209.50 258.80,205.60 302.60,205.60 302.60,209.50" fill="none" stroke="#3a3a3a" stroke-width="1.1" stroke-linejoin="round" stroke-linejoin="miter"/>
<text x="281.6" y="204.0" font-size="6.0" text-anchor="middle" fill="#3b3b3b" textLength="6.5" lengthAdjust="spacingAndGlyphs">ns</text>
<polyline points="258.80,221.10 258.80,216.30 287.90,216.30 287.90,221.10" fill="none" stroke="#3a3a3a" stroke-width="1.1" stroke-linejoin="round" stroke-linejoin="miter"/>
<circle cx="272.65" cy="213.30" r="0.95" fill="#3a3a3a" stroke="none" stroke-width="0.6"/>
<circle cx="275.75" cy="213.30" r="0.95" fill="#3a3a3a" stroke="none" stroke-width="0.6"/>
<polyline points="287.50,233.20 287.50,228.40 302.60,228.40 302.60,233.20" fill="none" stroke="#3a3a3a" stroke-width="1.1" stroke-linejoin="round" stroke-linejoin="miter"/>
<circle cx="294.90" cy="225.40" r="0.95" fill="#3a3a3a" stroke="none" stroke-width="0.6"/>
<polyline points="316.90,233.20 316.90,228.40 330.80,228.40 330.80,233.20" fill="none" stroke="#3a3a3a" stroke-width="1.1" stroke-linejoin="round" stroke-linejoin="miter"/>
<text x="323.8" y="226.8" font-size="6.0" text-anchor="middle" fill="#3b3b3b" textLength="6.5" lengthAdjust="spacingAndGlyphs">ns</text>
<text x="350.9" y="195.2" font-size="11.5" text-anchor="start" fill="#111" font-weight="bold" textLength="6.9" lengthAdjust="spacingAndGlyphs">F</text>
<polygon points="392.16,286.40 393.65,279.47 395.14,273.17 396.63,266.45 398.12,260.78 401.10,252.38 404.08,245.45 407.06,238.73 410.04,231.80 416.00,232.01 421.96,232.22 427.92,232.85 433.88,233.48 439.84,233.90 445.80,234.74 451.76,236.00 457.72,237.47 463.68,238.52 469.64,239.36 475.60,240.20 481.56,240.83 487.52,241.25 493.48,241.46 499.44,241.67 505.40,241.88 505.40,286.40" fill="#f4e7d8" stroke="none"/>
<polygon points="398.12,286.40 404.08,272.33 407.66,264.77 410.04,261.62 433.88,261.83 457.72,262.88 481.56,264.14 505.40,264.98 505.40,286.40" fill="#f2e0cb" stroke="none"/>
<polygon points="400.50,286.40 410.04,271.70 415.40,263.93 422.56,270.44 445.80,271.28 475.60,272.12 505.40,272.96 505.40,286.40" fill="#edd9cc" stroke="none"/>
<polygon points="399.91,286.40 410.04,273.38 415.40,265.82 422.56,270.86 445.80,271.70 475.60,272.54 505.40,273.80 505.40,286.40" fill="#ebd6ca" stroke="none"/>
<line x1="398.12" y1="248.60" x2="398.12" y2="266.87" stroke="#e2c2a4" stroke-width="0.7"/>
<line x1="396.32" y1="248.60" x2="399.92" y2="248.60" stroke="#d2ae8e" stroke-width="0.8"/>
<line x1="396.72" y1="266.87" x2="399.52" y2="266.87" stroke="#e2c3a4" stroke-width="0.6"/>
<line x1="404.08" y1="226.34" x2="404.08" y2="251.95" stroke="#e2c2a4" stroke-width="0.7"/>
<line x1="402.28" y1="226.34" x2="405.88" y2="226.34" stroke="#d2ae8e" stroke-width="0.8"/>
<line x1="402.68" y1="251.95" x2="405.48" y2="251.95" stroke="#e2c3a4" stroke-width="0.6"/>
<line x1="410.04" y1="208.70" x2="410.04" y2="238.30" stroke="#e2c2a4" stroke-width="0.7"/>
<line x1="408.24" y1="208.70" x2="411.84" y2="208.70" stroke="#d2ae8e" stroke-width="0.8"/>
<line x1="408.64" y1="238.30" x2="411.44" y2="238.30" stroke="#e2c3a4" stroke-width="0.6"/>
<line x1="416.00" y1="210.38" x2="416.00" y2="238.51" stroke="#e2c2a4" stroke-width="0.7"/>
<line x1="414.20" y1="210.38" x2="417.80" y2="210.38" stroke="#d2ae8e" stroke-width="0.8"/>
<line x1="414.60" y1="238.51" x2="417.40" y2="238.51" stroke="#e2c3a4" stroke-width="0.6"/>
<line x1="421.96" y1="210.38" x2="421.96" y2="238.72" stroke="#e2c2a4" stroke-width="0.7"/>
<line x1="420.16" y1="210.38" x2="423.76" y2="210.38" stroke="#d2ae8e" stroke-width="0.8"/>
<line x1="420.56" y1="238.72" x2="423.36" y2="238.72" stroke="#e2c3a4" stroke-width="0.6"/>
<line x1="427.92" y1="210.80" x2="427.92" y2="239.35" stroke="#e2c2a4" stroke-width="0.7"/>
<line x1="426.12" y1="210.80" x2="429.72" y2="210.80" stroke="#d2ae8e" stroke-width="0.8"/>
<line x1="426.52" y1="239.35" x2="429.32" y2="239.35" stroke="#e2c3a4" stroke-width="0.6"/>
<line x1="433.88" y1="210.80" x2="433.88" y2="239.98" stroke="#e2c2a4" stroke-width="0.7"/>
<line x1="432.08" y1="210.80" x2="435.68" y2="210.80" stroke="#d2ae8e" stroke-width="0.8"/>
<line x1="432.48" y1="239.98" x2="435.28" y2="239.98" stroke="#e2c3a4" stroke-width="0.6"/>
<line x1="439.84" y1="211.64" x2="439.84" y2="240.40" stroke="#e2c2a4" stroke-width="0.7"/>
<line x1="438.04" y1="211.64" x2="441.64" y2="211.64" stroke="#d2ae8e" stroke-width="0.8"/>
<line x1="438.44" y1="240.40" x2="441.24" y2="240.40" stroke="#e2c3a4" stroke-width="0.6"/>
<line x1="445.80" y1="212.69" x2="445.80" y2="241.24" stroke="#e2c2a4" stroke-width="0.7"/>
<line x1="444.00" y1="212.69" x2="447.60" y2="212.69" stroke="#d2ae8e" stroke-width="0.8"/>
<line x1="444.40" y1="241.24" x2="447.20" y2="241.24" stroke="#e2c3a4" stroke-width="0.6"/>
<line x1="451.76" y1="214.58" x2="451.76" y2="242.50" stroke="#e2c2a4" stroke-width="0.7"/>
<line x1="449.96" y1="214.58" x2="453.56" y2="214.58" stroke="#d2ae8e" stroke-width="0.8"/>
<line x1="450.36" y1="242.50" x2="453.16" y2="242.50" stroke="#e2c3a4" stroke-width="0.6"/>
<line x1="457.72" y1="216.89" x2="457.72" y2="243.97" stroke="#e2c2a4" stroke-width="0.7"/>
<line x1="455.92" y1="216.89" x2="459.52" y2="216.89" stroke="#d2ae8e" stroke-width="0.8"/>
<line x1="456.32" y1="243.97" x2="459.12" y2="243.97" stroke="#e2c3a4" stroke-width="0.6"/>
<line x1="463.68" y1="218.78" x2="463.68" y2="245.02" stroke="#e2c2a4" stroke-width="0.7"/>
<line x1="461.88" y1="218.78" x2="465.48" y2="218.78" stroke="#d2ae8e" stroke-width="0.8"/>
<line x1="462.28" y1="245.02" x2="465.08" y2="245.02" stroke="#e2c3a4" stroke-width="0.6"/>
<line x1="469.64" y1="220.46" x2="469.64" y2="245.86" stroke="#e2c2a4" stroke-width="0.7"/>
<line x1="467.84" y1="220.46" x2="471.44" y2="220.46" stroke="#d2ae8e" stroke-width="0.8"/>
<line x1="468.24" y1="245.86" x2="471.04" y2="245.86" stroke="#e2c3a4" stroke-width="0.6"/>
<line x1="475.60" y1="221.51" x2="475.60" y2="246.70" stroke="#e2c2a4" stroke-width="0.7"/>
<line x1="473.80" y1="221.51" x2="477.40" y2="221.51" stroke="#d2ae8e" stroke-width="0.8"/>
<line x1="474.20" y1="246.70" x2="477.00" y2="246.70" stroke="#e2c3a4" stroke-width="0.6"/>
<line x1="481.56" y1="222.56" x2="481.56" y2="247.33" stroke="#e2c2a4" stroke-width="0.7"/>
<line x1="479.76" y1="222.56" x2="483.36" y2="222.56" stroke="#d2ae8e" stroke-width="0.8"/>
<line x1="480.16" y1="247.33" x2="482.96" y2="247.33" stroke="#e2c3a4" stroke-width="0.6"/>
<line x1="487.52" y1="222.98" x2="487.52" y2="247.75" stroke="#e2c2a4" stroke-width="0.7"/>
<line x1="485.72" y1="222.98" x2="489.32" y2="222.98" stroke="#d2ae8e" stroke-width="0.8"/>
<line x1="486.12" y1="247.75" x2="488.92" y2="247.75" stroke="#e2c3a4" stroke-width="0.6"/>
<line x1="493.48" y1="223.40" x2="493.48" y2="247.96" stroke="#e2c2a4" stroke-width="0.7"/>
<line x1="491.68" y1="223.40" x2="495.28" y2="223.40" stroke="#d2ae8e" stroke-width="0.8"/>
<line x1="492.08" y1="247.96" x2="494.88" y2="247.96" stroke="#e2c3a4" stroke-width="0.6"/>
<line x1="499.44" y1="224.24" x2="499.44" y2="248.17" stroke="#e2c2a4" stroke-width="0.7"/>
<line x1="497.64" y1="224.24" x2="501.24" y2="224.24" stroke="#d2ae8e" stroke-width="0.8"/>
<line x1="498.04" y1="248.17" x2="500.84" y2="248.17" stroke="#e2c3a4" stroke-width="0.6"/>
<line x1="505.40" y1="224.24" x2="505.40" y2="248.38" stroke="#e2c2a4" stroke-width="0.7"/>
<line x1="503.60" y1="224.24" x2="507.20" y2="224.24" stroke="#d2ae8e" stroke-width="0.8"/>
<line x1="504.00" y1="248.38" x2="506.80" y2="248.38" stroke="#e2c3a4" stroke-width="0.6"/>
<line x1="404.08" y1="267.93" x2="404.08" y2="276.73" stroke="#f2cf9e" stroke-width="0.6"/>
<line x1="402.78" y1="267.93" x2="405.38" y2="267.93" stroke="#f0c48a" stroke-width="0.6"/>
<line x1="402.78" y1="276.73" x2="405.38" y2="276.73" stroke="#f0c48a" stroke-width="0.6"/>
<line x1="410.04" y1="257.22" x2="410.04" y2="266.02" stroke="#f2cf9e" stroke-width="0.6"/>
<line x1="408.74" y1="257.22" x2="411.34" y2="257.22" stroke="#f0c48a" stroke-width="0.6"/>
<line x1="408.74" y1="266.02" x2="411.34" y2="266.02" stroke="#f0c48a" stroke-width="0.6"/>
<line x1="410.04" y1="268.30" x2="410.04" y2="275.30" stroke="#c2d2e2" stroke-width="0.6"/>
<line x1="408.84" y1="268.30" x2="411.24" y2="268.30" stroke="#b4c8dc" stroke-width="0.6"/>
<line x1="408.84" y1="275.30" x2="411.24" y2="275.30" stroke="#c8b8d8" stroke-width="0.6"/>
<line x1="416.00" y1="257.27" x2="416.00" y2="266.07" stroke="#f2cf9e" stroke-width="0.6"/>
<line x1="414.70" y1="257.27" x2="417.30" y2="257.27" stroke="#f0c48a" stroke-width="0.6"/>
<line x1="414.70" y1="266.07" x2="417.30" y2="266.07" stroke="#f0c48a" stroke-width="0.6"/>
<line x1="416.00" y1="261.07" x2="416.00" y2="268.07" stroke="#c2d2e2" stroke-width="0.6"/>
<line x1="414.80" y1="261.07" x2="417.20" y2="261.07" stroke="#b4c8dc" stroke-width="0.6"/>
<line x1="414.80" y1="268.07" x2="417.20" y2="268.07" stroke="#c8b8d8" stroke-width="0.6"/>
<line x1="421.96" y1="257.32" x2="421.96" y2="266.12" stroke="#f2cf9e" stroke-width="0.6"/>
<line x1="420.66" y1="257.32" x2="423.26" y2="257.32" stroke="#f0c48a" stroke-width="0.6"/>
<line x1="420.66" y1="266.12" x2="423.26" y2="266.12" stroke="#f0c48a" stroke-width="0.6"/>
<line x1="421.96" y1="266.50" x2="421.96" y2="273.50" stroke="#c2d2e2" stroke-width="0.6"/>
<line x1="420.76" y1="266.50" x2="423.16" y2="266.50" stroke="#b4c8dc" stroke-width="0.6"/>
<line x1="420.76" y1="273.50" x2="423.16" y2="273.50" stroke="#c8b8d8" stroke-width="0.6"/>
<line x1="427.92" y1="257.38" x2="427.92" y2="266.18" stroke="#f2cf9e" stroke-width="0.6"/>
<line x1="426.62" y1="257.38" x2="429.22" y2="257.38" stroke="#f0c48a" stroke-width="0.6"/>
<line x1="426.62" y1="266.18" x2="429.22" y2="266.18" stroke="#f0c48a" stroke-width="0.6"/>
<line x1="427.92" y1="267.23" x2="427.92" y2="274.23" stroke="#c2d2e2" stroke-width="0.6"/>
<line x1="426.72" y1="267.23" x2="429.12" y2="267.23" stroke="#b4c8dc" stroke-width="0.6"/>
<line x1="426.72" y1="274.23" x2="429.12" y2="274.23" stroke="#c8b8d8" stroke-width="0.6"/>
<line x1="433.88" y1="257.43" x2="433.88" y2="266.23" stroke="#f2cf9e" stroke-width="0.6"/>
<line x1="432.58" y1="257.43" x2="435.18" y2="257.43" stroke="#f0c48a" stroke-width="0.6"/>
<line x1="432.58" y1="266.23" x2="435.18" y2="266.23" stroke="#f0c48a" stroke-width="0.6"/>
<line x1="433.88" y1="267.45" x2="433.88" y2="274.45" stroke="#c2d2e2" stroke-width="0.6"/>
<line x1="432.68" y1="267.45" x2="435.08" y2="267.45" stroke="#b4c8dc" stroke-width="0.6"/>
<line x1="432.68" y1="274.45" x2="435.08" y2="274.45" stroke="#c8b8d8" stroke-width="0.6"/>
<line x1="439.84" y1="257.69" x2="439.84" y2="266.49" stroke="#f2cf9e" stroke-width="0.6"/>
<line x1="438.54" y1="257.69" x2="441.14" y2="257.69" stroke="#f0c48a" stroke-width="0.6"/>
<line x1="438.54" y1="266.49" x2="441.14" y2="266.49" stroke="#f0c48a" stroke-width="0.6"/>
<line x1="439.84" y1="267.66" x2="439.84" y2="274.66" stroke="#c2d2e2" stroke-width="0.6"/>
<line x1="438.64" y1="267.66" x2="441.04" y2="267.66" stroke="#b4c8dc" stroke-width="0.6"/>
<line x1="438.64" y1="274.66" x2="441.04" y2="274.66" stroke="#c8b8d8" stroke-width="0.6"/>
<line x1="445.80" y1="257.95" x2="445.80" y2="266.75" stroke="#f2cf9e" stroke-width="0.6"/>
<line x1="444.50" y1="257.95" x2="447.10" y2="257.95" stroke="#f0c48a" stroke-width="0.6"/>
<line x1="444.50" y1="266.75" x2="447.10" y2="266.75" stroke="#f0c48a" stroke-width="0.6"/>
<line x1="445.80" y1="267.88" x2="445.80" y2="274.88" stroke="#c2d2e2" stroke-width="0.6"/>
<line x1="444.60" y1="267.88" x2="447.00" y2="267.88" stroke="#b4c8dc" stroke-width="0.6"/>
<line x1="444.60" y1="274.88" x2="447.00" y2="274.88" stroke="#c8b8d8" stroke-width="0.6"/>
<line x1="451.76" y1="258.22" x2="451.76" y2="267.02" stroke="#f2cf9e" stroke-width="0.6"/>
<line x1="450.46" y1="258.22" x2="453.06" y2="258.22" stroke="#f0c48a" stroke-width="0.6"/>
<line x1="450.46" y1="267.02" x2="453.06" y2="267.02" stroke="#f0c48a" stroke-width="0.6"/>
<line x1="451.76" y1="268.05" x2="451.76" y2="275.05" stroke="#c2d2e2" stroke-width="0.6"/>
<line x1="450.56" y1="268.05" x2="452.96" y2="268.05" stroke="#b4c8dc" stroke-width="0.6"/>
<line x1="450.56" y1="275.05" x2="452.96" y2="275.05" stroke="#c8b8d8" stroke-width="0.6"/>
<line x1="457.72" y1="258.48" x2="457.72" y2="267.28" stroke="#f2cf9e" stroke-width="0.6"/>
<line x1="456.42" y1="258.48" x2="459.02" y2="258.48" stroke="#f0c48a" stroke-width="0.6"/>
<line x1="456.42" y1="267.28" x2="459.02" y2="267.28" stroke="#f0c48a" stroke-width="0.6"/>
<line x1="457.72" y1="268.22" x2="457.72" y2="275.22" stroke="#c2d2e2" stroke-width="0.6"/>
<line x1="456.52" y1="268.22" x2="458.92" y2="268.22" stroke="#b4c8dc" stroke-width="0.6"/>
<line x1="456.52" y1="275.22" x2="458.92" y2="275.22" stroke="#c8b8d8" stroke-width="0.6"/>
<line x1="463.68" y1="258.80" x2="463.68" y2="267.59" stroke="#f2cf9e" stroke-width="0.6"/>
<line x1="462.38" y1="258.80" x2="464.98" y2="258.80" stroke="#f0c48a" stroke-width="0.6"/>
<line x1="462.38" y1="267.59" x2="464.98" y2="267.59" stroke="#f0c48a" stroke-width="0.6"/>
<line x1="463.68" y1="268.38" x2="463.68" y2="275.38" stroke="#c2d2e2" stroke-width="0.6"/>
<line x1="462.48" y1="268.38" x2="464.88" y2="268.38" stroke="#b4c8dc" stroke-width="0.6"/>
<line x1="462.48" y1="275.38" x2="464.88" y2="275.38" stroke="#c8b8d8" stroke-width="0.6"/>
<line x1="469.64" y1="259.11" x2="469.64" y2="267.91" stroke="#f2cf9e" stroke-width="0.6"/>
<line x1="468.34" y1="259.11" x2="470.94" y2="259.11" stroke="#f0c48a" stroke-width="0.6"/>
<line x1="468.34" y1="267.91" x2="470.94" y2="267.91" stroke="#f0c48a" stroke-width="0.6"/>
<line x1="469.64" y1="268.55" x2="469.64" y2="275.55" stroke="#c2d2e2" stroke-width="0.6"/>
<line x1="468.44" y1="268.55" x2="470.84" y2="268.55" stroke="#b4c8dc" stroke-width="0.6"/>
<line x1="468.44" y1="275.55" x2="470.84" y2="275.55" stroke="#c8b8d8" stroke-width="0.6"/>
<line x1="475.60" y1="259.43" x2="475.60" y2="268.22" stroke="#f2cf9e" stroke-width="0.6"/>
<line x1="474.30" y1="259.43" x2="476.90" y2="259.43" stroke="#f0c48a" stroke-width="0.6"/>
<line x1="474.30" y1="268.22" x2="476.90" y2="268.22" stroke="#f0c48a" stroke-width="0.6"/>
<line x1="475.60" y1="268.72" x2="475.60" y2="275.72" stroke="#c2d2e2" stroke-width="0.6"/>
<line x1="474.40" y1="268.72" x2="476.80" y2="268.72" stroke="#b4c8dc" stroke-width="0.6"/>
<line x1="474.40" y1="275.72" x2="476.80" y2="275.72" stroke="#c8b8d8" stroke-width="0.6"/>
<line x1="481.56" y1="259.74" x2="481.56" y2="268.54" stroke="#f2cf9e" stroke-width="0.6"/>
<line x1="480.26" y1="259.74" x2="482.86" y2="259.74" stroke="#f0c48a" stroke-width="0.6"/>
<line x1="480.26" y1="268.54" x2="482.86" y2="268.54" stroke="#f0c48a" stroke-width="0.6"/>
<line x1="481.56" y1="268.89" x2="481.56" y2="275.89" stroke="#c2d2e2" stroke-width="0.6"/>
<line x1="480.36" y1="268.89" x2="482.76" y2="268.89" stroke="#b4c8dc" stroke-width="0.6"/>
<line x1="480.36" y1="275.89" x2="482.76" y2="275.89" stroke="#c8b8d8" stroke-width="0.6"/>
<line x1="487.52" y1="259.95" x2="487.52" y2="268.75" stroke="#f2cf9e" stroke-width="0.6"/>
<line x1="486.22" y1="259.95" x2="488.82" y2="259.95" stroke="#f0c48a" stroke-width="0.6"/>
<line x1="486.22" y1="268.75" x2="488.82" y2="268.75" stroke="#f0c48a" stroke-width="0.6"/>
<line x1="487.52" y1="269.06" x2="487.52" y2="276.06" stroke="#c2d2e2" stroke-width="0.6"/>
<line x1="486.32" y1="269.06" x2="488.72" y2="269.06" stroke="#b4c8dc" stroke-width="0.6"/>
<line x1="486.32" y1="276.06" x2="488.72" y2="276.06" stroke="#c8b8d8" stroke-width="0.6"/>
<line x1="493.48" y1="260.16" x2="493.48" y2="268.96" stroke="#f2cf9e" stroke-width="0.6"/>
<line x1="492.18" y1="260.16" x2="494.78" y2="260.16" stroke="#f0c48a" stroke-width="0.6"/>
<line x1="492.18" y1="268.96" x2="494.78" y2="268.96" stroke="#f0c48a" stroke-width="0.6"/>
<line x1="493.48" y1="269.22" x2="493.48" y2="276.22" stroke="#c2d2e2" stroke-width="0.6"/>
<line x1="492.28" y1="269.22" x2="494.68" y2="269.22" stroke="#b4c8dc" stroke-width="0.6"/>
<line x1="492.28" y1="276.22" x2="494.68" y2="276.22" stroke="#c8b8d8" stroke-width="0.6"/>
<line x1="499.44" y1="260.37" x2="499.44" y2="269.17" stroke="#f2cf9e" stroke-width="0.6"/>
<line x1="498.14" y1="260.37" x2="500.74" y2="260.37" stroke="#f0c48a" stroke-width="0.6"/>
<line x1="498.14" y1="269.17" x2="500.74" y2="269.17" stroke="#f0c48a" stroke-width="0.6"/>
<line x1="499.44" y1="269.39" x2="499.44" y2="276.39" stroke="#c2d2e2" stroke-width="0.6"/>
<line x1="498.24" y1="269.39" x2="500.64" y2="269.39" stroke="#b4c8dc" stroke-width="0.6"/>
<line x1="498.24" y1="276.39" x2="500.64" y2="276.39" stroke="#c8b8d8" stroke-width="0.6"/>
<line x1="505.40" y1="260.58" x2="505.40" y2="269.38" stroke="#f2cf9e" stroke-width="0.6"/>
<line x1="504.10" y1="260.58" x2="506.70" y2="260.58" stroke="#f0c48a" stroke-width="0.6"/>
<line x1="504.10" y1="269.38" x2="506.70" y2="269.38" stroke="#f0c48a" stroke-width="0.6"/>
<line x1="505.40" y1="269.56" x2="505.40" y2="276.56" stroke="#c2d2e2" stroke-width="0.6"/>
<line x1="504.20" y1="269.56" x2="506.60" y2="269.56" stroke="#b4c8dc" stroke-width="0.6"/>
<line x1="504.20" y1="276.56" x2="506.60" y2="276.56" stroke="#c8b8d8" stroke-width="0.6"/>
<polyline points="399.91,286.40 410.04,273.38 415.40,265.82 422.56,270.86 445.80,271.70 475.60,272.54 505.40,273.80" fill="none" stroke="#b9a6d6" stroke-width="1.1" stroke-linejoin="round"/>
<polyline points="400.50,286.40 410.04,271.70 415.40,263.93 422.56,270.44 445.80,271.28 475.60,272.12 505.40,272.96" fill="none" stroke="#90aed0" stroke-width="1.1" stroke-linejoin="round"/>
<polyline points="398.12,286.40 404.08,272.33 407.66,264.77 410.04,261.62 433.88,261.83 457.72,262.88 481.56,264.14 505.40,264.98" fill="none" stroke="#f0ad4a" stroke-width="1.3" stroke-linejoin="round"/>
<polyline points="392.16,286.40 393.65,279.47 395.14,273.17 396.63,266.45 398.12,260.78 401.10,252.38 404.08,245.45 407.06,238.73 410.04,231.80 416.00,232.01 421.96,232.22 427.92,232.85 433.88,233.48 439.84,233.90 445.80,234.74 451.76,236.00 457.72,237.47 463.68,238.52 469.64,239.36 475.60,240.20 481.56,240.83 487.52,241.25 493.48,241.46 499.44,241.67 505.40,241.88" fill="none" stroke="#b86e28" stroke-width="1.4" stroke-linejoin="round"/>
<line x1="386.20" y1="286.90" x2="386.20" y2="200.00" stroke="#222" stroke-width="1.2"/>
<line x1="383.60" y1="286.40" x2="386.20" y2="286.40" stroke="#222" stroke-width="1"/>
<text x="380.4" y="288.59999999999997" font-size="6.5" text-anchor="end" fill="#3b3b3b">0</text>
<line x1="383.60" y1="265.40" x2="386.20" y2="265.40" stroke="#222" stroke-width="1"/>
<text x="380.4" y="267.59999999999997" font-size="6.5" text-anchor="end" fill="#3b3b3b">1</text>
<line x1="383.60" y1="244.40" x2="386.20" y2="244.40" stroke="#222" stroke-width="1"/>
<text x="380.4" y="246.59999999999997" font-size="6.5" text-anchor="end" fill="#3b3b3b">2</text>
<line x1="383.60" y1="223.40" x2="386.20" y2="223.40" stroke="#222" stroke-width="1"/>
<text x="380.4" y="225.59999999999997" font-size="6.5" text-anchor="end" fill="#3b3b3b">3</text>
<line x1="383.60" y1="202.40" x2="386.20" y2="202.40" stroke="#222" stroke-width="1"/>
<text x="380.4" y="204.59999999999997" font-size="6.5" text-anchor="end" fill="#3b3b3b">4</text>
<line x1="385.70" y1="286.50" x2="507.10" y2="286.50" stroke="#222" stroke-width="1.1"/>
<line x1="386.20" y1="286.50" x2="386.20" y2="289.10" stroke="#222" stroke-width="1"/>
<line x1="410.04" y1="286.50" x2="410.04" y2="289.10" stroke="#222" stroke-width="1"/>
<line x1="433.88" y1="286.50" x2="433.88" y2="289.10" stroke="#222" stroke-width="1"/>
<line x1="457.72" y1="286.50" x2="457.72" y2="289.10" stroke="#222" stroke-width="1"/>
<line x1="481.56" y1="286.50" x2="481.56" y2="289.10" stroke="#222" stroke-width="1"/>
<line x1="505.40" y1="286.50" x2="505.40" y2="289.10" stroke="#222" stroke-width="1"/>
<text x="386.2" y="298.8" font-size="6.3" text-anchor="middle" fill="#3b3b3b">0:00</text>
<text x="410.03999999999996" y="298.8" font-size="6.3" text-anchor="middle" fill="#3b3b3b">4:00</text>
<text x="433.88" y="298.8" font-size="6.3" text-anchor="middle" fill="#3b3b3b">8:00</text>
<text x="457.71999999999997" y="298.8" font-size="6.3" text-anchor="middle" fill="#3b3b3b">12:00</text>
<text x="481.56" y="298.8" font-size="6.3" text-anchor="middle" fill="#3b3b3b">16:00</text>
<text x="505.4" y="298.8" font-size="6.3" text-anchor="middle" fill="#3b3b3b">20:00</text>
<text x="447.3" y="310.0" font-size="8.2" text-anchor="middle" fill="#3b3b3b" textLength="45" lengthAdjust="spacingAndGlyphs">Time (seconds)</text>
<text x="370.2" y="244" font-size="6.6" text-anchor="middle" fill="#333" transform="rotate(-90 370.2 244)" textLength="71" lengthAdjust="spacingAndGlyphs">Fluorescence (AU × 10<tspan dy="-2.2" font-size="4.4">5</tspan><tspan dy="2.2">)</tspan></text>
<line x1="393.30" y1="322.50" x2="402.30" y2="322.50" stroke="#b86e28" stroke-width="1.15"/>
<text x="405.90000000000003" y="324.8" font-size="6.7" text-anchor="start" fill="#3b3b3b">iTTP</text>
<line x1="393.30" y1="330.00" x2="402.30" y2="330.00" stroke="#6ab0e0" stroke-width="1.15"/>
<text x="405.90000000000003" y="332.3" font-size="6.7" text-anchor="start" fill="#3b3b3b">Control</text>
<line x1="433.70" y1="322.50" x2="442.70" y2="322.50" stroke="#f0a43a" stroke-width="1.15"/>
<text x="446.3" y="324.8" font-size="6.7" text-anchor="start" fill="#3b3b3b">iTTP + anakinra</text>
<line x1="433.70" y1="330.00" x2="442.70" y2="330.00" stroke="#b9a6d6" stroke-width="1.15"/>
<text x="446.3" y="332.3" font-size="6.7" text-anchor="start" fill="#3b3b3b">Control + anakinra</text>
<rect x="0.5" y="0.5" width="519" height="344" fill="none" stroke="#575757" stroke-width="1"/>
</svg></body></html>
